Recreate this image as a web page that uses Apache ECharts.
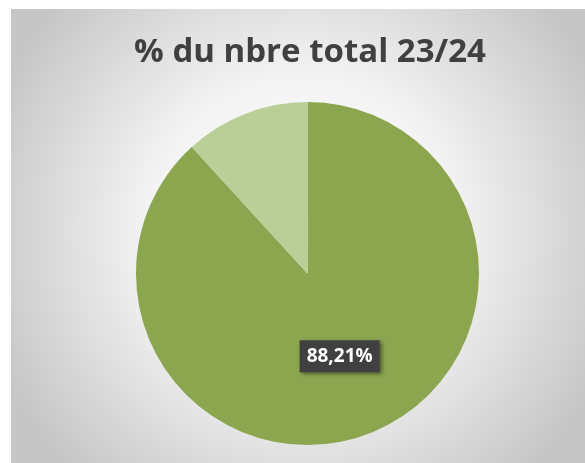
<!DOCTYPE html>
<html>
<head>
<meta charset="utf-8">
<script src="https://cdn.jsdelivr.net/npm/echarts@6/dist/echarts.min.js"></script>
<style>
  html, body { margin: 0; padding: 0; background: #fff; }
  #main { width: 585px; height: 463px; }
</style>
</head>
<body>
<div id="main"></div>
<script>
  // données du graphique
  var categories = ['Partie A', 'Partie B'];
  var values = [88.21, 11.79];
  var colors = ['#8ba64f', '#bacf98'];
  var labels = ['88,21%', ''];

  var myChart = echarts.init(document.getElementById('main'));

  var option = {
    animation: false,
    graphic: [{
      type: 'rect',
      z: -10,
      shape: { x: 11, y: 9, width: 580, height: 460 },
      style: {
        fill: {
          type: 'radial', x: 0.5, y: 0.48, r: 0.72,
          colorStops: [
            { offset: 0, color: '#ffffff' },
            { offset: 0.45, color: '#f4f4f4' },
            { offset: 1, color: '#c6c6c6' }
          ]
        }
      }
    }],
    title: {
      text: '% du nbre total 23/24',
      left: 305, top: 31, textAlign: 'center',
      textStyle: {
        fontFamily: 'Open Sans', fontWeight: 'bold', fontSize: 33, color: '#404040'
      }
    },
    series: [{
      type: 'pie',
      center: [307.5, 273.5],
      radius: 171.5,
      startAngle: 90,
      clockwise: true,
      silent: true,
      data: categories.map(function (c, i) {
        return {
          name: c, value: values[i],
          itemStyle: { color: colors[i] },
          label: { show: labels[i] !== '' }
        };
      }),
      label: {
        position: 'inside',
        formatter: function (p) { return labels[p.dataIndex]; },
        fontFamily: 'Open Sans', fontWeight: 'bold', fontSize: 19, color: '#fff',
        backgroundColor: '#404040',
        padding: [7, 7, 6, 7],
        shadowColor: 'rgba(0,0,0,0.45)', shadowBlur: 4, shadowOffsetX: 2, shadowOffsetY: 2
      },
      labelLine: { show: false }
    }]
  };
  myChart.setOption(option);
</script>
</body>
</html>
